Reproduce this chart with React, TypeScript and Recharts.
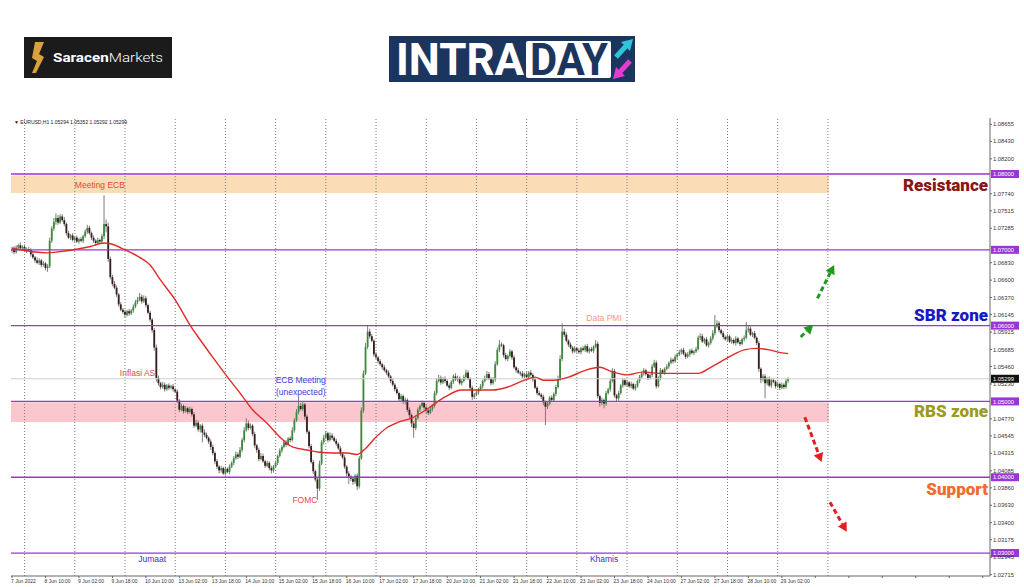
import React from 'react';
import {
  ComposedChart,
  Bar,
  Line,
  XAxis,
  YAxis,
  ReferenceLine,
  ReferenceArea,
  ReferenceDot,
} from 'recharts';

// time axis labels, one every 16 hourly bars
const timeLabels = [
  '7 Jun 2022', '8 Jun 10:00', '9 Jun 02:00', '9 Jun 18:00', '10 Jun 10:00', '13 Jun 02:00',
  '13 Jun 18:00', '14 Jun 10:00', '15 Jun 02:00', '15 Jun 18:00', '16 Jun 10:00', '17 Jun 02:00',
  '17 Jun 18:00', '20 Jun 10:00', '21 Jun 02:00', '21 Jun 18:00', '22 Jun 10:00', '23 Jun 02:00',
  '23 Jun 18:00', '24 Jun 10:00', '27 Jun 02:00', '27 Jun 18:00', '28 Jun 10:00', '29 Jun 02:00',
];

// EURUSD H1, prices in pips above 1.0000 (700 = 1.0700)
const firstOpen = 699;
const closes = [
  701, 697, 703, 706, 702, 704, 699, 701, 700, 694, 690, 686, 683, 686, 680, 682, 676, 678, 712, 728, 737, 742, 736, 744,
  739, 734, 722, 716, 719, 713, 716, 711, 714, 712, 718, 724, 729, 722, 716, 712, 709, 713, 711, 718, 734, 731, 688, 664,
  655, 650, 641, 628, 621, 618, 614, 619, 616, 620, 625, 631, 634, 638, 632, 636, 627, 617, 608, 594, 571, 531, 524, 519,
  522, 516, 521, 518, 520, 516, 513, 501, 489, 494, 487, 491, 486, 490, 483, 468, 472, 463, 468, 459, 456, 452, 447, 440,
  432, 421, 414, 409, 412, 405, 411, 407, 414, 419, 425, 430, 427, 436, 449, 462, 471, 465, 468, 457, 442, 436, 424, 428,
  421, 415, 419, 412, 409, 414, 419, 428, 435, 440, 446, 443, 451, 449, 462, 475, 486, 494, 490, 496, 480, 460, 441, 420,
  408, 397, 385, 418, 446, 452, 458, 449, 455, 452, 448, 444, 438, 431, 426, 414, 405, 401, 398, 394, 402, 388, 425, 488,
  537, 572, 592, 586, 580, 562, 558, 553, 549, 545, 541, 538, 533, 527, 522, 516, 511, 503, 507, 500, 502, 489, 482, 471,
  465, 478, 489, 494, 498, 492, 488, 485, 490, 494, 511, 527, 531, 525, 530, 527, 521, 518, 526, 533, 529, 531, 524, 527,
  532, 538, 530, 518, 506, 509, 512, 516, 520, 527, 531, 536, 530, 524, 529, 549, 568, 575, 574, 561, 556, 560, 566, 558,
  545, 541, 538, 537, 533, 536, 532, 538, 535, 529, 518, 511, 509, 506, 499, 493, 497, 505, 502, 510, 519, 530, 556, 592,
  588, 580, 575, 571, 566, 570, 567, 565, 570, 568, 573, 566, 569, 567, 572, 576, 507, 498, 502, 497, 511, 516, 527, 540,
  508, 504, 511, 521, 528, 522, 525, 520, 523, 517, 520, 527, 532, 537, 541, 536, 531, 535, 546, 551, 520, 531, 541, 538,
  543, 546, 551, 555, 553, 559, 562, 565, 568, 563, 559, 562, 567, 564, 566, 569, 584, 586, 579, 582, 574, 577, 583, 590,
  599, 603, 594, 590, 585, 582, 586, 579, 581, 577, 583, 578, 576, 582, 584, 594, 596, 588, 590, 584, 577, 543, 529, 533,
  524, 530, 521, 528, 526, 520, 523, 518, 522, 519, 527, 529.9,
];
// wick above the body, pips
const wickUp = [
  3, 4, 3, 2, 4, 2, 3, 2, 3, 2, 3, 2, 4, 3, 2, 3, 2, 3, 4, 3, 5, 6, 4, 3,
  3, 4, 2, 3, 2, 3, 2, 3, 2, 3, 2, 3, 4, 3, 2, 3, 2, 3, 2, 3, 38, 6, 5, 3,
  3, 4, 3, 2, 3, 2, 3, 2, 3, 2, 3, 3, 4, 5, 3, 4, 3, 2, 3, 2, 3, 4, 3, 2,
  4, 3, 2, 3, 2, 3, 2, 3, 2, 3, 2, 3, 2, 3, 2, 3, 4, 3, 2, 3, 4, 3, 2, 3,
  3, 2, 3, 2, 3, 2, 3, 2, 3, 2, 3, 4, 3, 4, 3, 4, 7, 4, 3, 2, 3, 2, 3, 4,
  3, 2, 3, 2, 3, 2, 3, 2, 3, 2, 3, 3, 2, 3, 4, 3, 4, 12, 4, 3, 2, 3, 2, 3,
  3, 2, 3, 4, 3, 4, 3, 2, 4, 3, 2, 3, 2, 3, 2, 3, 2, 3, 2, 3, 2, 3, 3, 4,
  4, 5, 9, 4, 3, 2, 3, 2, 3, 2, 3, 2, 3, 2, 3, 2, 3, 2, 3, 2, 3, 2, 3, 2,
  3, 4, 3, 2, 3, 2, 3, 2, 3, 2, 3, 3, 4, 3, 2, 3, 2, 3, 2, 3, 4, 3, 2, 3,
  3, 4, 3, 2, 3, 2, 3, 2, 3, 2, 3, 4, 3, 2, 3, 4, 3, 6, 3, 2, 3, 2, 3, 2,
  3, 2, 3, 2, 3, 2, 3, 2, 3, 2, 3, 2, 3, 2, 3, 2, 3, 2, 3, 2, 3, 4, 5, 11,
  4, 3, 2, 3, 2, 3, 2, 3, 2, 3, 2, 3, 2, 3, 2, 5, 3, 2, 3, 2, 3, 2, 3, 4,
  3, 2, 3, 2, 3, 2, 3, 2, 3, 2, 3, 2, 3, 2, 3, 2, 3, 2, 3, 4, 3, 2, 3, 2,
  2, 3, 2, 3, 2, 3, 2, 3, 2, 3, 2, 3, 2, 3, 2, 3, 3, 4, 3, 2, 3, 2, 3, 4,
  15, 4, 3, 2, 3, 2, 3, 2, 3, 2, 3, 2, 3, 2, 3, 11, 4, 3, 2, 3, 2, 3, 2, 3,
  3, 2, 3, 2, 3, 2, 3, 2, 3, 2, 3, 2,
];
// wick below the body, pips
const wickDown = [
  3, 3, 2, 3, 2, 3, 2, 3, 2, 3, 2, 3, 2, 3, 3, 2, 3, 5, 2, 3, 3, 4, 3, 2,
  2, 3, 3, 2, 3, 2, 3, 2, 3, 2, 3, 2, 3, 2, 3, 3, 4, 2, 3, 2, 4, 8, 4, 3,
  3, 2, 3, 3, 2, 3, 4, 2, 3, 2, 3, 2, 3, 2, 3, 2, 3, 2, 3, 3, 4, 5, 3, 3,
  2, 3, 2, 3, 2, 3, 2, 3, 3, 2, 3, 2, 3, 2, 3, 3, 2, 3, 4, 13, 3, 2, 3, 4,
  3, 4, 3, 4, 3, 2, 3, 2, 3, 2, 3, 2, 3, 2, 3, 3, 2, 3, 2, 3, 3, 4, 3, 2,
  2, 3, 2, 3, 4, 3, 2, 3, 2, 3, 2, 3, 2, 3, 2, 3, 2, 3, 2, 3, 4, 3, 3, 2,
  4, 3, 15, 3, 2, 3, 2, 3, 2, 3, 2, 3, 2, 3, 2, 3, 4, 10, 3, 4, 3, 5, 3, 2,
  3, 2, 3, 3, 2, 3, 2, 3, 2, 3, 2, 3, 2, 3, 2, 3, 2, 3, 4, 3, 4, 3, 4, 5,
  13, 3, 2, 3, 2, 3, 4, 3, 2, 3, 2, 3, 2, 3, 2, 3, 2, 3, 2, 3, 2, 3, 2, 3,
  2, 3, 2, 3, 4, 3, 2, 3, 2, 3, 2, 3, 2, 3, 2, 3, 2, 3, 2, 3, 2, 3, 2, 3,
  2, 3, 2, 3, 2, 3, 2, 3, 2, 3, 2, 3, 2, 3, 4, 24, 3, 2, 3, 2, 3, 2, 3, 3,
  3, 2, 3, 2, 3, 2, 3, 2, 3, 2, 3, 2, 3, 2, 3, 2, 3, 5, 3, 6, 3, 2, 3, 2,
  3, 4, 3, 2, 3, 2, 3, 2, 3, 2, 3, 2, 3, 2, 3, 2, 3, 2, 3, 2, 3, 2, 3, 2,
  3, 2, 3, 2, 3, 2, 3, 2, 3, 2, 3, 2, 3, 2, 3, 2, 2, 3, 2, 3, 2, 3, 2, 3,
  3, 2, 3, 2, 3, 2, 3, 2, 3, 2, 3, 2, 3, 2, 3, 2, 3, 2, 3, 2, 3, 4, 5, 3,
  20, 3, 2, 3, 2, 3, 2, 3, 2, 3, 2, 3,
];

// moving average (bar index -> pips)
const maBars = [
  0, 17, 21, 37, 44, 47, 54, 61, 66, 71, 78, 85, 90, 96, 103, 109, 115, 122, 128, 134,
  141, 147, 153, 160, 165, 169, 174, 179, 185, 191, 199, 207, 215, 222, 230, 237, 245, 250, 254,
  259, 266, 274, 281, 286, 294, 302, 309, 317, 328, 334, 343, 350, 356, 362, 368, 371,
];
const maPips = [
  702, 696, 697, 704, 709, 708, 700, 690, 680, 660, 634, 601, 581, 558, 532, 511, 489, 471, 453, 440,
  436, 433, 432, 432, 430, 438, 453, 465, 473, 478, 491, 506, 515, 515, 515, 519, 528, 532, 528,
  528, 532, 541, 545, 540, 535, 539, 537, 537, 537, 545, 559, 568, 570, 568, 564, 563,
];

const totalSlots = 468; // bars + right shift
const dayStarts = [6, 30, 54, 78, 102, 126, 150, 174, 198, 222, 246, 270, 294, 318, 342, 366, 390];
const levels = [1.08, 1.07, 1.06, 1.05, 1.04, 1.03];
const lastPrice = 1.05299;
const priceTicks = [
  1.08655, 1.0843, 1.082, 1.0774, 1.07515, 1.07285, 1.0683, 1.066, 1.0637, 1.06145, 1.05915, 1.05685,
  1.0546, 1.0523, 1.0477, 1.04545, 1.04315, 1.04085, 1.0386, 1.0363, 1.034, 1.03175, 1.02945, 1.02715,
];

// annotations on the chart
const noteText = ['Meeting ECB', 'Inflasi AS', 'ECB Meeting', '(unexpected)', 'FOMC', 'Data PMI', 'Jumaat', 'Khamis'];
const noteBar = [42, 60, 138, 138, 140, 283, 67, 283];
const notePrice = [1.07855, 1.05375, 1.05282, 1.05124, 1.03699, 1.061, 1.02921, 1.02921];
const noteColor = ['#e8463a', '#e8463a', '#3b3bdc', '#3b3bdc', '#e8463a', '#f29a80', '#3434c4', '#3434c4'];

// dashed scenario arrows [bar, price] -> [bar, price]
const arrowFrom = [[385, 1.0636], [377, 1.0585], [379, 1.0479], [391, 1.0367]];
const arrowTo = [[393, 1.068], [383, 1.0601], [387, 1.042], [399, 1.0328]];
const arrowColor = ['#1f9a1f', '#1f9a1f', '#e02020', '#e02020'];

const px = (p: number) => 1 + p / 10000;

const data = Array.from({ length: totalSlots }, (_, i) => {
  const row: any = { i };
  if (i < closes.length) {
    const o = i === 0 ? firstOpen : closes[i - 1];
    const c = closes[i];
    row.open = px(o);
    row.close = px(c);
    row.high = px(Math.max(o, c) + (wickUp[i] ?? 2));
    row.low = px(Math.min(o, c) - (wickDown[i] ?? 2));
  }
  const k = maBars.indexOf(i);
  if (k >= 0) row.ma = px(maPips[k]);
  return row;
});

const Candle = (props: any) => {
  const { x, y, width, height, payload } = props;
  if (!payload || payload.high == null) return null;
  const { open, close, high, low } = payload;
  const top = Math.min(y, y + height);
  const h = Math.abs(height);
  const k = high - low > 0 ? h / (high - low) : 0;
  const yo = top + (high - open) * k;
  const yc = top + (high - close) * k;
  const cx = x + width / 2;
  const up = close >= open;
  return (
    <g>
      <line x1={cx} x2={cx} y1={top} y2={top + h} stroke="#6e6e6e" strokeWidth={0.9} />
      <rect
        x={cx - 0.9}
        y={Math.min(yo, yc)}
        width={1.8}
        height={Math.max(0.8, Math.abs(yc - yo))}
        fill={up ? '#3b8a3b' : '#361c1c'}
      />
    </g>
  );
};

const XTick = ({ x, y, payload }: any) => {
  const label = timeLabels[payload.value / 16];
  if (!label) return null;
  return (
    <text x={x - 1} y={y + 5} fontSize={5} fill="#333" fontFamily="Liberation Sans" textAnchor="start">
      {label}
    </text>
  );
};

// boxed price tag on the price scale
const tag = (text: string, bg: string) => (p: any) => {
  const vb = p.viewBox || {};
  const vx = (vb.x ?? 0) + (vb.width ?? 0);
  const vy = vb.y ?? 0;
  return (
    <g>
      <rect x={vx + 1} y={vy - 4} width={28} height={8} fill={bg} />
      <text x={vx + 3} y={vy + 2.2} fontSize={5.8} fill="#fff" fontFamily="Liberation Sans">
        {text}
      </text>
    </g>
  );
};

const arrowShape = (color: string) => (p: any) => {
  const { x1, y1, x2, y2 } = p;
  if (x1 == null) return null;
  const ang = Math.atan2(y2 - y1, x2 - x1);
  const L = 9;
  const W = 5;
  const bx = x2 - L * Math.cos(ang);
  const by = y2 - L * Math.sin(ang);
  const nx = -Math.sin(ang);
  const ny = Math.cos(ang);
  return (
    <g>
      <line x1={x1} y1={y1} x2={bx} y2={by} stroke={color} strokeWidth={3} strokeDasharray="5 3" />
      <polygon points={`${x2},${y2} ${bx + nx * W},${by + ny * W} ${bx - nx * W},${by - ny * W}`} fill={color} />
    </g>
  );
};

const zoneStyle = (top: number, color: string): React.CSSProperties => ({
  position: 'absolute',
  right: 36,
  top,
  color,
  fontFamily: 'Roboto',
  fontWeight: 900,
  fontSize: 17,
  lineHeight: '18px',
});

export default function App() {
  const yDomain: [number, number] = [1.02697, 1.08739];
  return (
    <div style={{ position: 'absolute', left: 0, top: 0, width: 1024, height: 587, background: '#fff', overflow: 'hidden' }}>
      {/* logos */}
      <svg style={{ position: 'absolute', left: 24, top: 37 }} width={148} height={41}>
        <rect width={148} height={41} fill="#1b1b1b" />
        <path d="M 11 5 L 20 5 L 15 17 L 20 20 L 12 36 L 8 36 L 13 24 L 8 21 Z" fill="#d9a23a" />
        <text x={29} y={25} fontFamily="Roboto" fontSize={13} fill="#fff" textLength={110} lengthAdjust="spacingAndGlyphs">
          <tspan fontWeight={700}>Saracen</tspan>
          <tspan fontWeight={300}>Markets</tspan>
        </text>
      </svg>
      <svg style={{ position: 'absolute', left: 389, top: 36, overflow: 'visible' }} width={246} height={56}>
        <rect width={246} height={46} fill="#1c355e" />
        <text x={7} y={39} fontFamily="Roboto" fontWeight={700} fontSize={44} fill="#fff" textLength={128} lengthAdjust="spacingAndGlyphs">
          INTRA
        </text>
        <rect x={137} y={5} width={85} height={37} rx={2} fill="#fff" />
        <text x={141} y={39} fontFamily="Roboto" fontWeight={700} fontSize={44} fill="#1c355e" textLength={78} lengthAdjust="spacingAndGlyphs">
          DAY
        </text>
        <line x1={227} y1={21} x2={238} y2={9} stroke="#2cc6d8" strokeWidth={5} />
        <polygon points="244,3 232,6 241,15" fill="#2cc6d8" />
        <line x1={241} y1={25} x2={230} y2={37} stroke="#e53bd3" strokeWidth={5} />
        <polygon points="224,43 236,40 227,31" fill="#e53bd3" />
      </svg>

      <div style={{ position: 'absolute', left: 0, top: 112 }}>
        <ComposedChart
          width={1024}
          height={475}
          data={data}
          margin={{ top: 6, right: 0, bottom: 0, left: 11 }}
          barCategoryGap={0}
          barGap={0}
        >
          <XAxis
            dataKey="i"
            interval={15}
            height={11}
            tickSize={2}
            tickMargin={0}
            tick={<XTick />}
            axisLine={{ stroke: '#666' }}
            tickLine={{ stroke: '#666' }}
          />
          <XAxis xAxisId="t" dataKey="i" orientation="top" height={0} tick={false} tickLine={false} axisLine={{ stroke: '#666' }} />
          <YAxis yAxisId="l" orientation="left" width={0} domain={yDomain} allowDataOverflow tick={false} tickLine={false} axisLine={{ stroke: '#666' }} />
          <YAxis
            orientation="right"
            width={34}
            domain={yDomain}
            allowDataOverflow
            ticks={priceTicks}
            interval={0}
            tickSize={2}
            tickMargin={1}
            tickFormatter={(v: number) => v.toFixed(5)}
            tick={{ fontSize: 5.8, fill: '#333', fontFamily: 'Liberation Sans' }}
            axisLine={{ stroke: '#666' }}
            tickLine={{ stroke: '#666' }}
          />

          {/* zones */}
          <ReferenceArea x1={0} x2={390} y1={1.0775} y2={1.0798} fill="#fadcb6" fillOpacity={1} stroke="none" />
          <ReferenceArea x1={0} x2={390} y1={1.0473} y2={1.0499} fill="#fbc6ce" fillOpacity={1} stroke="none" />

          {/* day separators */}
          {dayStarts.map((d) => (
            <ReferenceLine key={'d' + d} x={d} stroke="#7a7a7a" strokeDasharray="1 2" />
          ))}

          <ReferenceLine y={lastPrice} stroke="#cfcfcf" label={tag(lastPrice.toFixed(5), '#111')} />
          {levels.map((lv) => (
            <ReferenceLine key={'l' + lv} y={lv} stroke="#9a36d6" strokeWidth={1.3} label={tag(lv.toFixed(5), '#9a36d6')} />
          ))}

          <Bar
            dataKey={(d: any) => (d.high == null ? null : [d.low, d.high])}
            shape={Candle}
            isAnimationActive={false}
          />
          <Line
            dataKey="ma"
            type="monotone"
            stroke="#e02a2a"
            strokeWidth={1.4}
            dot={false}
            connectNulls
            isAnimationActive={false}
          />

          {noteText.map((t, k) => (
            <ReferenceDot
              key={'n' + k}
              x={noteBar[k]}
              y={notePrice[k]}
              r={1}
              fill="none"
              stroke="none"
              label={{ value: t, position: 'center', fill: noteColor[k], fontSize: 8.5, fontFamily: 'Liberation Sans' }}
            />
          ))}

          {arrowFrom.map((a, k) => (
            <ReferenceLine
              key={'a' + k}
              segment={[
                { x: a[0], y: a[1] },
                { x: arrowTo[k][0], y: arrowTo[k][1] },
              ]}
              stroke={arrowColor[k]}
              shape={arrowShape(arrowColor[k])}
            />
          ))}
        </ComposedChart>
      </div>

      <div style={{ position: 'absolute', left: 14, top: 119, fontFamily: 'Liberation Sans', fontSize: 5, color: '#222' }}>
        ▼ EURUSD,H1  1.05294 1.05352 1.05292 1.05299
      </div>

      <div style={zoneStyle(176, '#8b1414')}>Resistance</div>
      <div style={zoneStyle(306, '#1717c8')}>SBR zone</div>
      <div style={zoneStyle(402, '#9d9b1c')}>RBS zone</div>
      <div style={zoneStyle(480, '#f26b2c')}>Support</div>
    </div>
  );
}
